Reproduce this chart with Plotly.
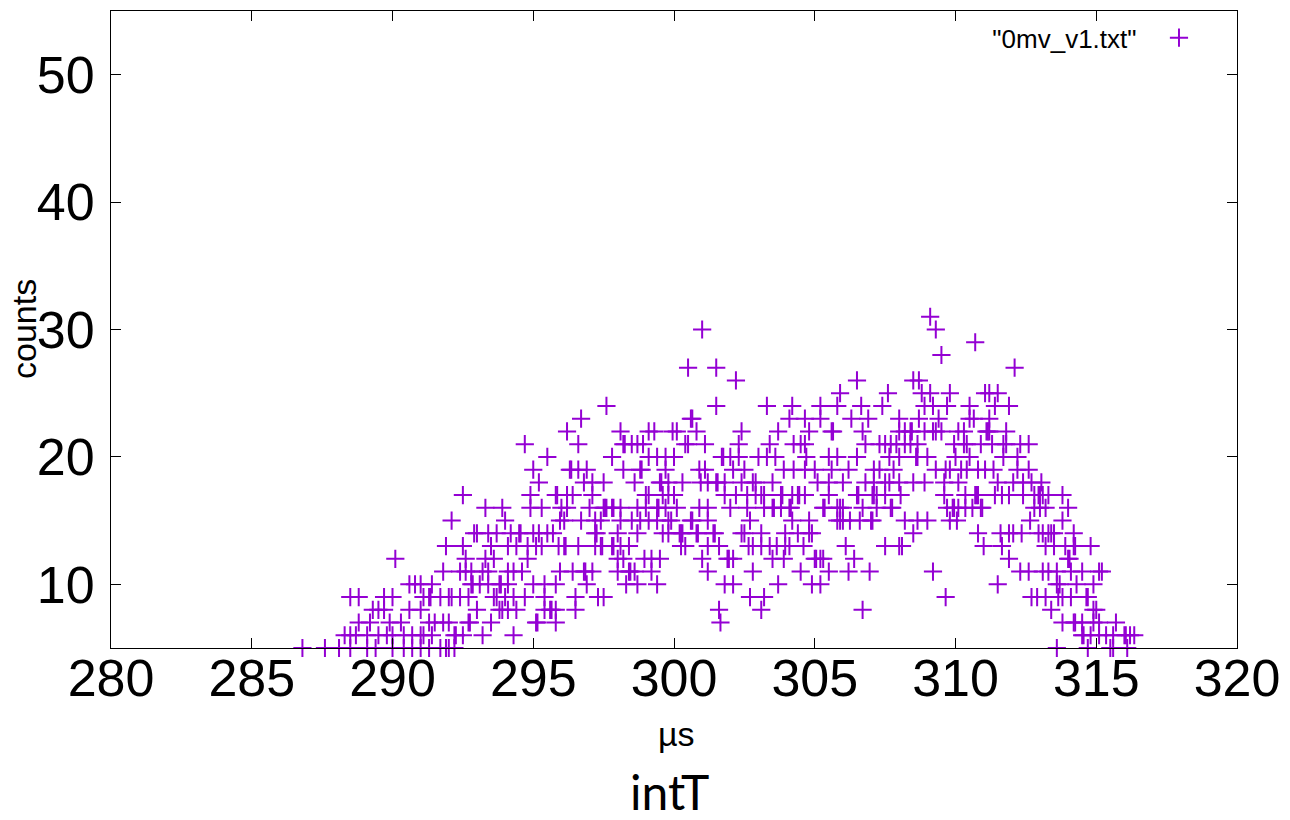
import plotly.graph_objects as go

# ---- data (time in µs, counts) ----
count_levels = [31, 30, 29, 28, 27, 26, 25, 24, 23, 22, 21, 20, 19, 18, 17, 16,
                15, 14, 13, 12, 11, 10, 9, 8, 7, 6, 5]

times_by_level = [
    [309.1],
    [301.0, 309.3],
    [310.7],
    [309.5],
    [300.5, 301.5, 312.1],
    [302.2, 306.5, 308.5, 308.7],
    [305.9, 307.6, 308.8, 309.1, 309.8, 311.05, 311.2, 311.5],
    [297.6, 301.5, 303.3, 304.2, 305.2, 305.8, 306.65, 307.4, 308.9, 309.2, 309.7,
     310.5, 311.4, 311.9],
    [296.7, 300.6, 300.65, 304.1, 304.65, 305.2, 306.3, 306.9, 308.0, 308.7, 309.4,
     310.5, 310.65, 311.2],
    [296.2, 298.1, 299.1, 299.3, 299.95, 300.1, 300.8, 302.4, 303.7, 304.8, 305.6,
     305.65, 306.7, 308.0, 308.2, 308.4, 308.45, 308.9, 309.2, 309.3, 309.5, 310.1,
     310.3, 311.1, 311.15, 311.2, 311.8],
    [294.7, 296.6, 298.2, 298.25, 298.5, 298.7, 298.9, 300.4, 300.5, 301.1, 302.3,
     303.4, 304.25, 304.5, 304.65, 306.8, 307.3, 307.5, 307.7, 307.9, 308.2, 308.4,
     308.65, 309.95, 310.3, 310.4, 310.9, 311.3, 311.7, 311.8, 312.3, 312.6],
    [295.5, 297.8, 299.1, 299.4, 299.7, 300.0, 301.7, 301.75, 302.0, 302.3, 303.0,
     303.3, 303.6, 304.7, 305.5, 305.8, 306.5, 307.65, 308.0, 308.6, 308.65, 309.0,
     310.0, 310.5, 311.7, 312.2],
    [295.0, 296.3, 296.35, 296.6, 296.9, 298.2, 298.8, 298.85, 299.7, 300.9, 301.1,
     302.1, 302.5, 303.9, 304.25, 304.65, 305.0, 305.6, 306.2, 307.1, 307.3, 307.8,
     309.3, 309.65, 309.8, 310.2, 310.4, 310.8, 311.05, 311.35, 312.2, 312.6],
    [295.2, 296.8, 297.1, 297.5, 298.6, 299.5, 299.55, 299.8, 300.3, 300.95, 301.2,
     301.5, 301.55, 301.8, 302.4, 302.8, 302.9, 303.5, 305.1, 305.5, 306.0, 306.8,
     307.1, 307.5, 307.65, 308.0, 308.5, 308.9, 309.6, 310.1, 311.5, 312.05, 312.4,
     312.7, 313.05],
    [292.5, 294.9, 295.8, 295.85, 296.2, 296.4, 297.1, 299.0, 299.1, 299.6, 299.8,
     300.0, 301.8, 302.2, 302.6, 302.9, 303.1, 303.2, 303.8, 303.85, 304.2, 304.4,
     304.45, 304.65, 305.5, 306.5, 306.55, 307.05, 307.1, 307.2, 307.5, 308.05, 309.6,
     310.35, 310.7, 310.75, 310.8, 311.4, 311.65, 311.9, 312.4, 312.8, 312.95, 313.0,
     313.1, 313.3, 313.8],
    [293.3, 293.9, 294.9, 295.3, 296.0, 296.2, 297.0, 297.5, 297.55, 297.6, 297.8,
     297.85, 298.1, 298.7, 299.0, 299.4, 299.45, 299.7, 300.1, 300.9, 301.2, 302.0,
     302.6, 303.2, 303.5, 303.55, 303.8, 304.1, 304.15, 305.3, 305.35, 305.8, 305.9,
     306.0, 306.7, 307.2, 307.7, 307.75, 309.7, 309.9, 309.95, 310.1, 310.35, 310.6,
     310.9, 310.95, 312.8, 313.0, 313.2, 314.0],
    [292.1, 294.0, 295.95, 296.1, 296.7, 297.2, 297.4, 298.1, 298.5, 298.8, 299.1,
     299.4, 299.8, 299.9, 300.6, 300.65, 301.2, 302.7, 304.2, 304.8, 305.8, 305.9,
     306.0, 306.25, 306.6, 307.0, 307.05, 308.2, 308.65, 309.0, 309.8, 310.05, 312.65,
     313.8],
    [292.9, 293.0, 293.4, 293.7, 294.2, 294.5, 294.55, 295.0, 295.2, 295.5, 295.7,
     297.2, 297.25, 298.0, 298.7, 299.6, 299.8, 300.2, 300.25, 300.3, 300.8, 300.85,
     301.4, 301.45, 302.4, 302.5, 303.1, 303.95, 304.4, 304.8, 304.9, 308.5, 310.8,
     311.6, 311.9, 312.05, 312.35, 312.95, 313.1, 313.3, 313.4, 313.5, 314.2],
    [291.9, 292.5, 293.5, 294.1, 294.4, 294.8, 295.1, 295.3, 295.9, 296.1, 296.15,
     296.6, 297.2, 297.4, 297.45, 297.8, 297.85, 298.1, 298.4, 300.25, 300.4, 301.2,
     301.6, 302.65, 302.8, 303.1, 303.4, 303.65, 303.95, 304.1, 304.6, 306.1, 307.5,
     308.0, 308.1, 311.0, 311.65, 313.2, 313.5, 313.9, 314.2, 314.25, 314.8],
    [290.1, 292.6, 293.3, 293.6, 294.8, 298.0, 298.2, 298.95, 299.2, 299.5, 301.0,
     301.9, 301.95, 302.1, 303.5, 303.9, 305.0, 305.05, 305.2, 305.3, 306.4, 311.9,
     314.0, 314.05],
    [291.8, 292.4, 292.6, 292.8, 293.2, 293.4, 294.1, 294.3, 294.6, 295.95, 296.4,
     296.8, 296.85, 297.1, 298.0, 298.4, 298.45, 298.6, 299.2, 301.2, 302.8, 304.5,
     305.5, 306.2, 306.95, 309.2, 312.3, 312.6, 313.1, 313.3, 313.6, 314.1, 314.5,
     315.1, 315.2],
    [290.6, 290.8, 291.0, 291.4, 292.8, 292.85, 293.1, 293.4, 293.8, 293.85, 294.1,
     295.0, 295.4, 295.8, 296.9, 298.3, 298.7, 299.4, 301.8, 302.1, 303.7, 304.9,
     305.2, 311.5, 313.6, 313.7, 314.3, 314.9],
    [288.5, 288.8, 289.7, 290.0, 291.1, 291.3, 291.35, 291.7, 292.0, 292.1, 292.4,
     292.7, 293.6, 293.7, 294.0, 294.3, 294.7, 295.4, 296.5, 297.3, 297.5, 302.7,
     303.2, 309.65, 312.7, 312.9, 313.2, 313.65, 313.8, 314.1, 314.65, 314.7],
    [289.3, 289.5, 289.7, 290.6, 291.0, 293.0, 293.8, 293.9, 294.1, 294.4, 295.4,
     295.6, 295.65, 295.8, 296.5, 301.6, 303.1, 306.7, 313.4, 314.9, 315.0],
    [288.8, 289.2, 289.9, 290.3, 291.3, 291.5, 291.8, 292.0, 292.7, 292.75, 293.5,
     295.1, 295.15, 295.8, 301.65, 313.8, 314.2, 314.25, 314.5, 314.9, 315.1, 315.7],
    [288.3, 288.5, 288.7, 289.1, 289.5, 289.8, 290.0, 290.4, 290.7, 291.0, 291.1,
     291.4, 292.2, 292.25, 292.5, 293.2, 294.3, 314.5, 314.55, 314.8, 315.1, 315.35,
     315.6, 316.0, 316.05, 316.2, 316.35],
    [286.8, 287.6, 288.1, 288.5, 289.1, 289.4, 290.0, 290.4, 290.7, 291.0, 291.3,
     291.7, 291.9, 292.0, 292.2, 313.6, 314.7, 315.5, 315.6, 316.1],
]

x_tick_values = [280, 285, 290, 295, 300, 305, 310, 315, 320]
y_tick_values = [10, 20, 30, 40, 50]
x_range = [280, 320]
y_range = [5, 55]

series_name = '"0mv_v1.txt"'
x_title = "µs"
y_title = "counts"
caption = "intT"

# flatten
time_us = []
counts = []
for lvl, ts in zip(count_levels, times_by_level):
    for t in ts:
        time_us.append(t)
        counts.append(lvl)

PURPLE = "#9400D3"
FONT = "Liberation Sans, Arial, sans-serif"

fig = go.Figure()
fig.add_trace(go.Scatter(
    x=time_us, y=counts, mode="markers", name="",
    marker=dict(symbol="cross-thin", size=13, color=PURPLE,
                line=dict(color=PURPLE, width=2)),
    cliponaxis=False, showlegend=True,
))

axis_common = dict(
    ticks="inside", ticklen=10, tickwidth=1, tickcolor="black",
    showline=True, linecolor="black", linewidth=1, mirror="ticks",
    showgrid=False, zeroline=False,
    tickfont=dict(family=FONT, size=52, color="black"),
)

fig.update_layout(
    width=1290, height=820,
    margin=dict(l=111, r=47, t=10, b=172),
    paper_bgcolor="white", plot_bgcolor="white",
    xaxis=dict(range=x_range, tickmode="array", tickvals=x_tick_values,
               ticklabelstandoff=-15, **axis_common),
    yaxis=dict(range=y_range, tickmode="array", tickvals=y_tick_values,
               ticklabelstandoff=5, **axis_common),
    legend=dict(
        title=dict(text=series_name + "\u00a0\u00a0", side="left",
                   font=dict(family=FONT, size=26, color="black")),
        x=0.971, xanchor="right", y=0.958, yanchor="middle",
        bgcolor="rgba(0,0,0,0)", borderwidth=0,
        font=dict(family=FONT, size=26),
    ),
    annotations=[
        dict(text=y_title, xref="paper", yref="paper", x=-0.0777, y=0.5,
             textangle=-90, showarrow=False, xanchor="center", yanchor="middle",
             font=dict(family=FONT, size=34, color="black")),
        dict(text=x_title, xref="paper", yref="paper", x=0.502, y=-0.135,
             showarrow=False, xanchor="center", yanchor="middle",
             font=dict(family=FONT, size=34, color="black")),
        dict(text=caption, xref="paper", yref="paper", x=0.496, y=-0.226,
             showarrow=False, xanchor="center", yanchor="middle",
             font=dict(family="Lato, Open Sans, sans-serif", size=48, color="black")),
    ],
)

fig.write_html("out.html",
               config={"displayModeBar": False},
               post_script="document.body.style.margin='0';"
                           "document.body.style.overflow='hidden';")
